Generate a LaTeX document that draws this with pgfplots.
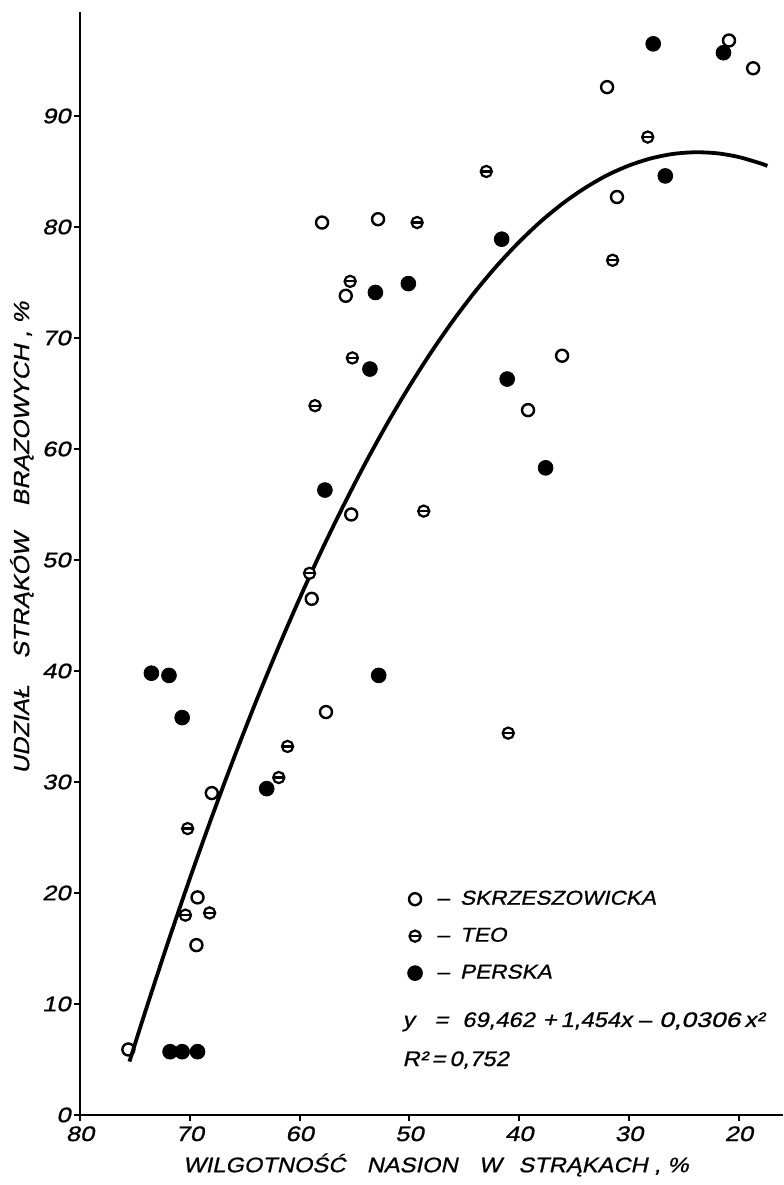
\documentclass[border=0pt]{standalone}
\usepackage{fontspec}
\usepackage{graphicx}
\usepackage{pgfplots}
\pgfplotsset{compat=1.18}
\setmainfont{Liberation Sans}
\newfontfamily\tickfont{Liberation Sans}[FakeStretch=1.22,FakeSlant=0.22,FakeBold=1.1]
\newfontfamily\letfont{Liberation Sans}[FakeStretch=1.13,FakeSlant=0.22,FakeBold=0.9]
\pgfdeclareplotmark{theta}{%
  \pgfpathcircle{\pgfpointorigin}{\pgfplotmarksize}\pgfusepathqfillstroke
  \pgfpathmoveto{\pgfqpoint{-\pgfplotmarksize}{0pt}}%
  \pgfpathlineto{\pgfqpoint{\pgfplotmarksize}{0pt}}\pgfusepathqstroke}
\begin{document}
\begin{tikzpicture}
\begin{axis}[
  scale only axis, width=351.4pt, height=551.7pt,
  x dir=reverse, xmin=16, xmax=80, ymin=0, ymax=99.4,
  axis lines*=left, axis line style={line width=1.4pt, black},
  xtick={20,30,...,80}, ytick={0,10,...,90},
  tick align=outside, major tick length=3pt, tick style={line width=1pt, black},
  ticklabel style={font=\tickfont\fontsize{10.5}{11}\selectfont, inner sep=1.5pt},
  xticklabel style={yshift=-1pt},
  /pgf/number format/assume math mode=true,
  clip=false,
  legend style={draw=none, fill=none, at={(axis cs:50.2,20.6)}, anchor=north west,
    inner sep=0pt, row sep=6pt, font=\letfont\fontsize{10}{11}\selectfont,
    /tikz/every odd column/.append style={column sep=5pt}},
  legend cell align=left,
  legend image code/.code={\draw[#1] plot coordinates {(0pt,0pt)};},
]
\coordinate (bbA) at (axis cs:87.29,-6.31);
\coordinate (bbB) at (axis cs:15.97,100.45);

\addplot[forget plot, no marks, smooth, line width=1.9pt, black] coordinates {
(75.5,4.81) (74,9.49) (72,15.52) (70,21.30) (68,26.84) (66,32.13) (64,37.18)
(62,41.98) (60,46.54) (58,50.86) (56,54.92) (54,58.75) (52,62.33) (50,65.66)
(48,68.75) (46,71.60) (44,74.20) (42,76.55) (40,78.66) (38,80.53) (36,82.15)
(34,83.52) (32,84.66) (30,85.54) (28,86.18) (26,86.58) (24,86.73) (22,86.64)
(20,86.30) (18,85.72) (17.4,85.50)};

\addplot[only marks, mark=o, mark size=3pt, mark options={line width=1.2pt, black, fill=white}] coordinates {
(57.96,80.4) (52.86,80.7) (55.8,73.8) (20.9,96.8) (18.7,94.3) (32.0,92.6)
(31.1,82.7) (36.1,68.4) (39.2,63.5) (55.3,54.1) (58.9,46.5) (57.6,36.3)
(68.0,29.0) (69.3,19.6) (69.4,15.3) (75.6,5.9)};
\addlegendentry{–\hspace{0.55em}SKRZESZOWICKA}

\addplot[only marks, mark=theta, mark size=2.8pt, mark options={line width=1.1pt, draw=black, fill=white}] coordinates {
(55.4,75.1) (55.2,68.2) (28.3,88.1) (43.0,85.0) (49.3,80.4) (31.5,77.0)
(48.7,54.4) (41.0,34.4) (58.6,63.9) (59.1,48.8) (61.1,33.2) (61.9,30.4)
(70.2,25.8) (70.4,18.0) (68.2,18.2)};
\addlegendentry{–\hspace{0.55em}TEO}

\addplot[only marks, mark=*, mark size=3.7pt, mark options={draw=black, fill=black}] coordinates {
(53.1,74.1) (53.6,67.2) (27.8,96.5) (21.4,95.7) (26.7,84.6) (41.6,78.9)
(50.1,74.9) (41.1,66.3) (37.6,58.3) (52.8,39.6) (57.7,56.3) (73.5,39.8)
(71.9,39.6) (70.7,35.8) (63.0,29.4) (71.8,5.7) (70.7,5.7) (69.3,5.7)};
\addlegendentry{–\hspace{0.55em}PERSKA}

\node[anchor=base west, inner sep=0pt] at (axis cs:50.67,7.93)
  {\letfont\fontsize{10.5}{11}\selectfont y\hspace{10pt}=\hspace{7pt}69,462\hspace{4pt}+\hspace{2pt}1,454x\hspace{3pt}–\hspace{4pt}\scalebox{1.12}[1]{0,0306}\hspace{2pt}x²};
\node[anchor=base west, inner sep=0pt] at (axis cs:50.67,4.41)
  {\letfont\fontsize{10.5}{11}\selectfont R²\hspace{2pt}=\hspace{2pt}0,752};
\node[rotate=90, inner sep=0pt] at (axis cs:85.3,52.0)
  {\letfont\fontsize{11}{12}\selectfont UDZIAŁ\hspace{0.9em} STRĄKÓW\hspace{0.9em} BRĄZOWYCH , \%};
\node[inner sep=0pt] at (axis cs:47.6,-4.5)
  {\letfont\fontsize{10.5}{12}\selectfont WILGOTNOŚĆ\hspace{0.7em} NASION\hspace{0.7em} W\hspace{0.5em} STRĄKACH , \%};
\end{axis}
\pgfresetboundingbox
\path[use as bounding box] (bbA) rectangle (bbB);
\end{tikzpicture}
\end{document}
